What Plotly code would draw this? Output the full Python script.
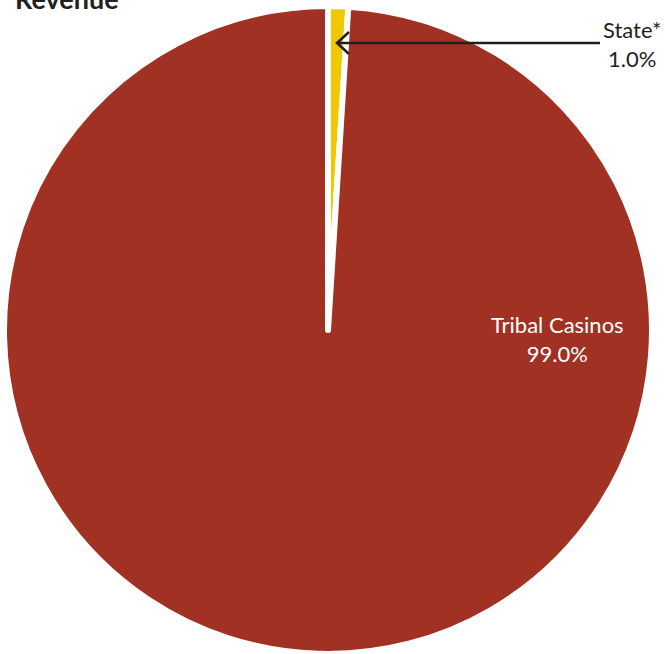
import plotly.graph_objects as go

W, H = 665, 654

labels = ["State*", "Tribal Casinos"]
values = [1.0, 99.0]
colors = ["#F0C800", "#A03123"]
pct_text = ["1.0%", "99.0%"]
title_text = "Revenue"

def px(x):
    return x / W

def py(y):
    return 1 - y / H

FONT = "Lato"

# pie placement (pixels)
cx, cy, r = 328, 331, 325

fig = go.Figure(go.Pie(
    labels=labels,
    values=values,
    sort=False,
    direction="clockwise",
    rotation=0,
    marker=dict(colors=colors, line=dict(color="white", width=6)),
    textinfo="none",
    hoverinfo="label+percent",
    showlegend=False,
    domain=dict(x=[px(cx - r), px(cx + r)], y=[max(0, py(cy + r)), py(cy - r)]),
))

annotations = [
    dict(text="<b>" + title_text + "</b>", x=px(13), y=py(-2), xref="paper", yref="paper",
         xanchor="left", yanchor="middle", showarrow=False,
         font=dict(family=FONT, size=27, color="#231F20")),
    dict(text=labels[0] + "<br>" + pct_text[0], x=px(632), y=py(44), xref="paper", yref="paper",
         xanchor="center", yanchor="middle", showarrow=False,
         font=dict(family=FONT, size=22, color="#231F20")),
    dict(text=labels[1] + "<br>" + pct_text[1], x=px(557), y=py(339), xref="paper", yref="paper",
         xanchor="center", yanchor="middle", showarrow=False,
         font=dict(family=FONT, size=22, color="white")),
]

path = (f"M {px(600)},{py(43)} L {px(337)},{py(43)} "
        f"M {px(349)},{py(32)} L {px(337)},{py(43)} L {px(349)},{py(54)}")
shapes = [dict(type="path", path=path, xref="paper", yref="paper",
               line=dict(color="#231F20", width=2.5))]

fig.update_layout(
    width=W, height=H,
    margin=dict(l=0, r=0, t=0, b=0),
    paper_bgcolor="white",
    plot_bgcolor="white",
    annotations=annotations,
    shapes=shapes,
)

fig.write_html("out.html",
               config={"displayModeBar": False},
               post_script="document.body.style.margin='0';document.body.style.overflow='hidden';")
